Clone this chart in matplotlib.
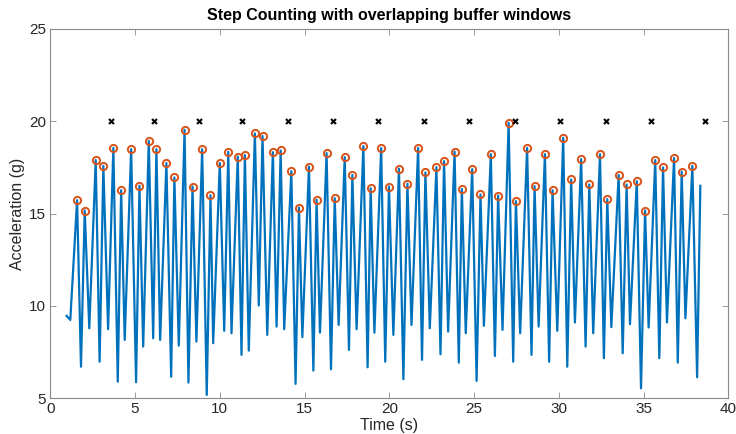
import numpy as np
import matplotlib
matplotlib.use("Agg")
import matplotlib.pyplot as plt

# Acceleration magnitude trace (time in s, acceleration in g)
time_s = [
    0.96, 1.18, 1.58, 1.81, 2.03, 2.30, 2.68, 2.91, 3.13, 3.41,
    3.72, 3.98, 4.18, 4.39, 4.77, 5.06, 5.26, 5.48, 5.81, 6.07,
    6.26, 6.48, 6.85, 7.13, 7.32, 7.58, 7.92, 8.15, 8.39, 8.62,
    8.96, 9.23, 9.45, 9.61, 10.00, 10.26, 10.50, 10.69, 11.06, 11.28,
    11.48, 11.71, 12.07, 12.30, 12.52, 12.80, 13.13, 13.35, 13.59, 13.80,
    14.22, 14.47, 14.67, 14.87, 15.26, 15.52, 15.71, 15.91, 16.30, 16.56,
    16.78, 17.01, 17.37, 17.62, 17.82, 18.07, 18.47, 18.72, 18.90, 19.12,
    19.52, 19.76, 19.98, 20.24, 20.57, 20.83, 21.07, 21.31, 21.70, 21.93,
    22.13, 22.39, 22.78, 23.02, 23.23, 23.47, 23.85, 24.10, 24.28, 24.51,
    24.89, 25.15, 25.38, 25.58, 25.99, 26.23, 26.42, 26.68, 27.04, 27.31,
    27.47, 27.72, 28.13, 28.39, 28.57, 28.81, 29.18, 29.43, 29.63, 29.91,
    30.26, 30.50, 30.73, 30.95, 31.32, 31.58, 31.80, 32.03, 32.43, 32.66,
    32.86, 33.10, 33.53, 33.77, 34.00, 34.20, 34.60, 34.85, 35.09, 35.30,
    35.69, 35.93, 36.15, 36.38, 36.80, 37.02, 37.25, 37.47, 37.88, 38.16,
    38.35,
]
accel_g = [
    9.46, 9.24, 15.72, 6.71, 15.16, 8.79, 17.89, 6.98, 17.58, 8.74,
    18.55, 5.90, 16.26, 8.16, 18.48, 5.87, 16.50, 7.80, 18.93, 8.25,
    18.48, 8.16, 17.73, 6.17, 16.95, 7.85, 19.53, 5.85, 16.46, 8.07,
    18.48, 5.18, 15.99, 7.98, 17.73, 8.65, 18.34, 8.52, 18.08, 7.35,
    18.16, 7.58, 19.33, 10.02, 19.19, 8.43, 18.32, 8.88, 18.41, 8.74,
    17.29, 5.78, 15.32, 8.31, 17.54, 6.50, 15.74, 8.55, 18.27, 6.57,
    15.83, 8.97, 18.05, 7.62, 17.09, 8.74, 18.65, 6.68, 16.37, 8.55,
    18.54, 6.98, 16.46, 8.43, 17.43, 6.03, 16.61, 8.97, 18.55, 7.08,
    17.22, 8.79, 17.51, 7.38, 17.83, 8.61, 18.35, 6.93, 16.33, 8.52,
    17.40, 5.94, 16.03, 8.92, 18.21, 7.29, 15.97, 8.70, 19.91, 6.98,
    15.67, 8.52, 18.55, 7.35, 16.48, 8.88, 18.21, 6.98, 16.26, 8.65,
    19.10, 6.71, 16.84, 9.10, 17.94, 7.80, 16.57, 8.52, 18.21, 7.17,
    15.78, 8.85, 17.08, 7.44, 16.57, 9.01, 16.75, 5.54, 15.16, 8.83,
    17.89, 7.17, 17.49, 9.10, 18.00, 6.93, 17.27, 9.33, 17.58, 6.14,
    16.50,
]

# Times at which a buffer window reported a step
step_times = [3.58, 6.14, 8.79, 11.33, 14.04, 16.70, 19.35, 22.03, 24.68,
              27.42, 30.09, 32.77, 35.42, 38.64]
step_level = 20

title_text = "Step Counting with overlapping buffer windows"
x_label = "Time (s)"
y_label = "Acceleration (g)"
x_ticks = [0, 5, 10, 15, 20, 25, 30, 35, 40]
y_ticks = [5, 10, 15, 20, 25]

t = np.asarray(time_s)
a = np.asarray(accel_g)
# local maxima of the trace
is_peak = np.zeros(len(a), dtype=bool)
is_peak[1:-1] = (a[1:-1] > a[:-2]) & (a[1:-1] > a[2:])

plt.rcParams["font.family"] = ["Liberation Sans", "DejaVu Sans"]

fig = plt.figure(figsize=(7.36, 4.34), dpi=100)
ax = fig.add_axes([50.3 / 736, 1 - 398.3 / 434, (728.3 - 50.3) / 736, (398.3 - 28.7) / 434])

ax.plot(t, a, color="#0072BD", lw=1.6, solid_joinstyle="round", zorder=2)
ax.plot(t[is_peak], a[is_peak], "o", ms=5.2, mfc="none", mec="#D95319",
        mew=1.4, zorder=3)
ax.plot(step_times, [step_level] * len(step_times), "x", ms=3.6, color="black",
        mew=1.5, zorder=3)

ax.set_xlim(0, 40)
ax.set_ylim(5, 25)
ax.set_xticks(x_ticks)
ax.set_yticks(y_ticks)

edge = "#8a8a8a"
for s in ax.spines.values():
    s.set_color(edge)
    s.set_linewidth(0.8)
ax.tick_params(direction="in", length=4.3, width=0.6, color=edge,
               labelsize=11, labelcolor="#262626", top=True, right=True, pad=3)

ax.set_xlabel(x_label, fontsize=11.5, color="#262626", labelpad=1)
ax.set_ylabel(y_label, fontsize=11.5, color="#262626", labelpad=3)
ax.set_title(title_text, fontsize=11.5, fontweight="bold", color="black", pad=6)

fig.savefig("out.png", dpi=100)
